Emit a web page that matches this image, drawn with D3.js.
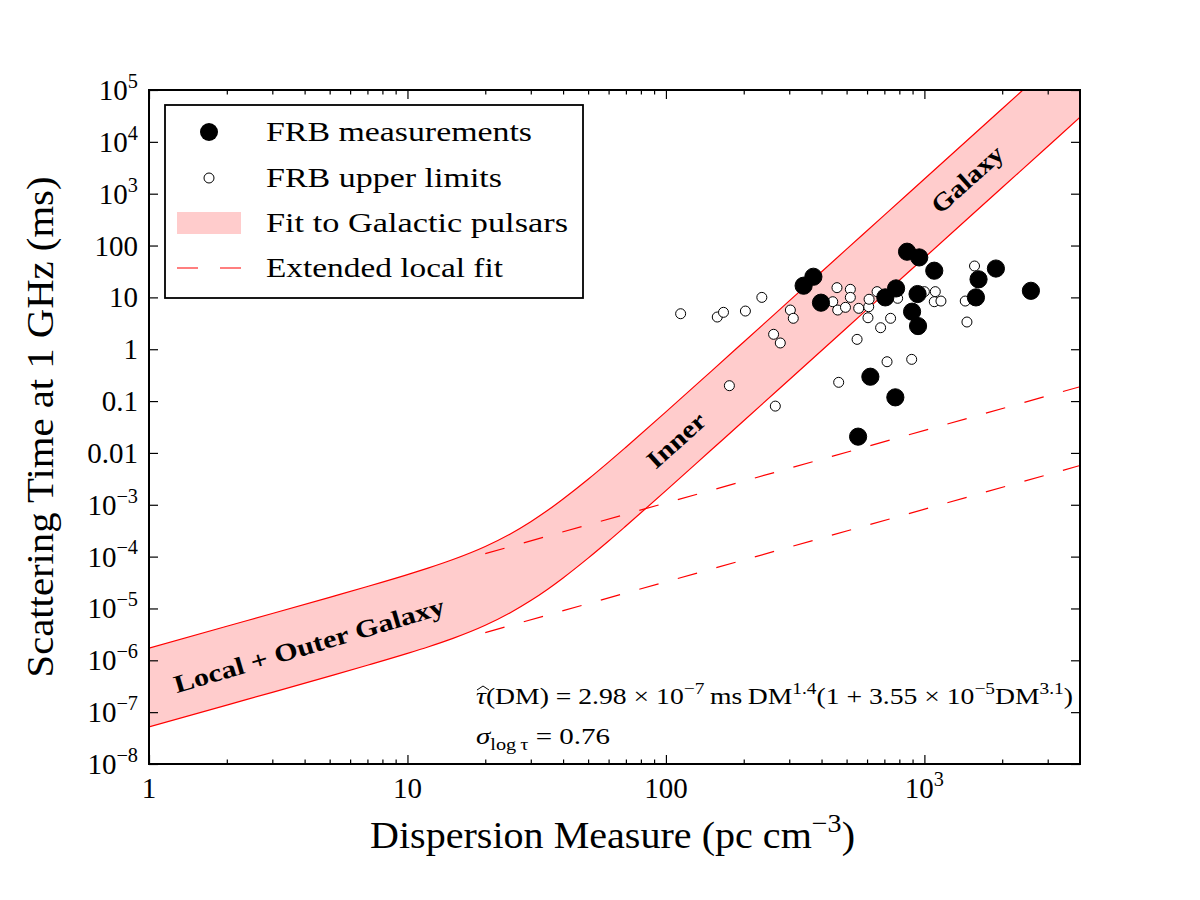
<!DOCTYPE html>
<html>
<head>
<meta charset="utf-8">
<script src="https://cdnjs.cloudflare.com/ajax/libs/d3/7.8.5/d3.min.js"></script>
<style>
  body { margin: 0; background: #ffffff; }
  text { font-family: "Liberation Serif", "DejaVu Serif", serif; fill: #000; }
</style>
</head>
<body>
<script>
// ---- data (DM in pc cm^-3, scattering time in ms) ----
// FRB measurements
var measDM  = [341, 372, 398, 857, 955, 1092, 1891, 1620, 1583, 2583, 777, 706, 941, 896, 945, 618, 772, 554];
var measTau = [16.8, 25, 7.9, 76, 59, 32.7, 36, 22.3, 10.0, 13.4, 14.9, 10.0, 11.6, 5.3, 2.8, 0.295, 0.118, 0.0206];

// FRB upper limits
var limDM  = [114, 158, 167, 203, 235, 303, 311, 261, 277, 176, 265, 459, 442, 462, 495, 517, 517, 557,
              609, 611, 605, 656, 549, 677, 740, 788, 1000, 1102, 1092, 1159, 1439, 1461, 1563, 717, 893, 466];
var limTau = [4.84, 4.18, 5.15, 5.45, 10, 5.7, 3.95, 1.94, 1.32, 0.198, 0.080, 15.4, 8.25, 5.7, 6.43, 14.3, 10, 6.15,
              6.6, 9.2, 4.05, 12.9, 1.55, 2.6, 3.95, 9.6, 12.9, 12.9, 8.25, 8.5, 8.5, 3.35, 40.3, 0.574, 0.638, 0.230];

// fit to Galactic pulsars: band edges
var bandDM   = [1, 2, 3, 5, 7, 10, 12, 15, 20, 25, 30, 35, 40, 50, 60, 70, 100, 150, 200, 300, 500, 700, 1000, 2000, 3000, 4000];
var bandHigh = [1.71e-6, 4.53e-6, 7.98e-6, 1.64e-5, 2.65e-5, 4.50e-5, 6.00e-5, 8.79e-5, 1.57e-4, 2.74e-4, 4.71e-4, 7.89e-4,
                1.29e-3, 3.10e-3, 6.64e-3, 1.29e-2, 6.19e-2, 0.379, 1.38, 8.55, 85.1, 386, 1923, 43550, 2.70e5, 9.86e5];
var bandLow  = [5.18e-8, 1.37e-7, 2.41e-7, 4.95e-7, 8.02e-7, 1.36e-6, 1.81e-6, 2.65e-6, 4.74e-6, 8.28e-6, 1.42e-5, 2.38e-5,
                3.88e-5, 9.35e-5, 2.00e-4, 3.89e-4, 1.87e-3, 1.15e-2, 4.17e-2, 0.258, 2.57, 11.7, 58.1, 1315, 8147, 29790];

// extended local fit (dashed)
var extDM   = [20, 4000];
var extHigh = [1.14e-4, 0.189];
var extLow  = [3.43e-6, 5.72e-3];

// ticks
var xTickVals   = [1, 10, 100, 1000];
var xTickLabels = ["1", "10", "100", "10^3"];
var yTickVals   = [1e5, 1e4, 1e3, 100, 10, 1, 0.1, 0.01, 1e-3, 1e-4, 1e-5, 1e-6, 1e-7, 1e-8];
var yTickLabels = ["10^5", "10^4", "10^3", "100", "10", "1", "0.1", "0.01",
                   "10^\u22123", "10^\u22124", "10^\u22125", "10^\u22126", "10^\u22127", "10^\u22128"];

var legendLabels = ["FRB measurements", "FRB upper limits", "Fit to Galactic pulsars", "Extended local fit"];

// ---- layout ----
var margin = {top: 90, right: 120, bottom: 136, left: 149},
    width = 1200 - margin.left - margin.right,
    height = 900 - margin.top - margin.bottom;

var x = d3.scaleLog().domain([1, 4000]).range([0, width]);
var y = d3.scaleLog().domain([1e-8, 1e5]).range([height, 0]);

var root = d3.select("body").append("svg")
    .attr("width", width + margin.left + margin.right)
    .attr("height", height + margin.top + margin.bottom);

root.append("rect")
    .attr("width", "100%")
    .attr("height", "100%")
    .attr("fill", "#ffffff");

var svg = root.append("g")
    .attr("transform", "translate(" + margin.left + "," + margin.top + ")");

svg.append("clipPath").attr("id", "plotclip")
  .append("rect").attr("width", width).attr("height", height);

var plot = svg.append("g").attr("clip-path", "url(#plotclip)");

// text with super/subscripts: parts = [{t, sup, sub, it}]
function addParts(textSel, parts, size) {
  var shift = 0;
  parts.forEach(function(p) {
    var target = p.sup ? -0.42 * size : (p.sub ? 0.28 * size : 0);
    var ts = textSel.append("tspan")
        .attr("dy", target - shift)
        .attr("font-size", (p.sup || p.sub) ? 0.7 * size : size)
        .text(p.t);
    if (p.it) ts.attr("font-style", "italic");
    shift = target;
  });
}
function powParts(s) {
  var bits = s.split("^");
  var parts = [{t: bits[0]}];
  if (bits.length > 1) parts.push({t: bits[1], sup: true});
  return parts;
}

// ---- Galactic pulsar band ----
var band = bandDM.map(function(d, i) { return {dm: d, lo: bandLow[i], hi: bandHigh[i]}; });

plot.append("path")
    .datum(band)
    .attr("fill", "#ffcccc")
    .attr("d", d3.area()
      .x(function(d) { return x(d.dm); })
      .y0(function(d) { return y(d.lo); })
      .y1(function(d) { return y(d.hi); })
      .curve(d3.curveMonotoneX));

["hi", "lo"].forEach(function(k) {
  plot.append("path")
      .datum(band)
      .attr("fill", "none")
      .attr("stroke", "#ff0000")
      .attr("stroke-width", 1.2)
      .attr("d", d3.line()
        .x(function(d) { return x(d.dm); })
        .y(function(d) { return y(d[k]); })
        .curve(d3.curveMonotoneX));
});

// ---- extended local fit ----
[extHigh, extLow].forEach(function(vals) {
  plot.append("path")
      .datum(extDM.map(function(d, i) { return [d, vals[i]]; }))
      .attr("fill", "none")
      .attr("stroke", "#ff0000")
      .attr("stroke-width", 1.2)
      .attr("stroke-dasharray", "20,20")
      .attr("d", d3.line()
        .x(function(d) { return x(d[0]); })
        .y(function(d) { return y(d[1]); }));
});

// ---- FRB points ----
plot.selectAll(".lim")
    .data(limDM.map(function(d, i) { return [d, limTau[i]]; }))
  .enter().append("circle")
    .attr("class", "lim")
    .attr("cx", function(d) { return x(d[0]); })
    .attr("cy", function(d) { return y(d[1]); })
    .attr("r", 5)
    .attr("fill", "#ffffff")
    .attr("stroke", "#000")
    .attr("stroke-width", 1);

plot.selectAll(".meas")
    .data(measDM.map(function(d, i) { return [d, measTau[i]]; }))
  .enter().append("circle")
    .attr("class", "meas")
    .attr("cx", function(d) { return x(d[0]); })
    .attr("cy", function(d) { return y(d[1]); })
    .attr("r", 8.6)
    .attr("fill", "#000")
    .attr("stroke", "#000")
    .attr("stroke-width", 1);

// ---- band annotations ----
function bandLabel(str, cx, cy, angle, len) {
  svg.append("text")
      .attr("transform", "translate(" + cx + "," + cy + ") rotate(" + angle + ")")
      .attr("text-anchor", "middle")
      .attr("dy", "0.35em")
      .attr("font-size", 25)
      .attr("font-weight", "bold")
      .attr("textLength", len)
      .attr("lengthAdjust", "spacingAndGlyphs")
      .text(str);
}
bandLabel("Local + Outer Galaxy", 309 - margin.left, 645 - margin.top, -16.5, 281);
bandLabel("Inner", 676 - margin.left, 440 - margin.top, -42, 70);
bandLabel("Galaxy", 967 - margin.left, 179 - margin.top, -42, 88);

// ---- fit formula ----
var f1 = svg.append("text")
    .attr("x", 476 - margin.left)
    .attr("y", 704 - margin.top)
    .attr("textLength", 597)
    .attr("lengthAdjust", "spacingAndGlyphs");
addParts(f1, [
  {t: "\u03C4", it: true}, {t: "(DM) = 2.98 \u00D7 10"}, {t: "\u22127", sup: true},
  {t: "\u2009ms\u2009DM"}, {t: "1.4", sup: true}, {t: "(1 + 3.55 \u00D7 10"}, {t: "\u22125", sup: true},
  {t: "DM"}, {t: "3.1", sup: true}, {t: ")"}
], 23);
// wide hat over tau
svg.append("path")
    .attr("d", "M" + (477 - margin.left) + "," + (690 - margin.top) +
               " L" + (483 - margin.left) + "," + (686 - margin.top) +
               " L" + (489 - margin.left) + "," + (690 - margin.top))
    .attr("fill", "none")
    .attr("stroke", "#000")
    .attr("stroke-width", 1);

var f2 = svg.append("text")
    .attr("x", 476 - margin.left)
    .attr("y", 744 - margin.top)
    .attr("textLength", 134)
    .attr("lengthAdjust", "spacingAndGlyphs");
addParts(f2, [
  {t: "\u03C3", it: true}, {t: "log\u2009\u03C4", sub: true}, {t: " = 0.76"}
], 23);

// ---- axes (ticks point inward on all four sides) ----
var xMinor = x.ticks().filter(function(d) {
  return xTickVals.indexOf(d) < 0 && d < 4000;
});

function styleAxis(g) {
  g.select(".domain").remove();
  g.selectAll(".tick line").attr("stroke", "#000").attr("stroke-width", 1.2);
}

svg.append("g").attr("transform", "translate(0," + height + ")")
    .call(d3.axisBottom(x).tickValues(xTickVals).tickSize(-9).tickFormat("")).call(styleAxis);
svg.append("g").attr("transform", "translate(0," + height + ")")
    .call(d3.axisBottom(x).tickValues(xMinor).tickSize(-4.5).tickFormat("")).call(styleAxis);
svg.append("g")
    .call(d3.axisTop(x).tickValues(xTickVals).tickSize(-9).tickFormat("")).call(styleAxis);
svg.append("g")
    .call(d3.axisTop(x).tickValues(xMinor).tickSize(-4.5).tickFormat("")).call(styleAxis);
svg.append("g")
    .call(d3.axisLeft(y).tickValues(yTickVals).tickSize(-9).tickFormat("")).call(styleAxis);
svg.append("g").attr("transform", "translate(" + width + ",0)")
    .call(d3.axisRight(y).tickValues(yTickVals).tickSize(-9).tickFormat("")).call(styleAxis);

// tick labels
xTickVals.forEach(function(v, i) {
  var t = svg.append("text")
      .attr("x", x(v))
      .attr("y", height + 34)
      .attr("text-anchor", "middle")
      .attr("font-size", 29);
  addParts(t, powParts(xTickLabels[i]), 29);
});

yTickVals.forEach(function(v, i) {
  var t = svg.append("text")
      .attr("x", -11)
      .attr("y", y(v) + 10)
      .attr("text-anchor", "end")
      .attr("font-size", 29);
  addParts(t, powParts(yTickLabels[i]), 29);
});

// frame
svg.append("rect")
    .attr("width", width)
    .attr("height", height)
    .attr("fill", "none")
    .attr("stroke", "#000")
    .attr("stroke-width", 2);

// axis labels
var xl = svg.append("text")
    .attr("x", width / 2 - 2)
    .attr("y", 848 - margin.top)
    .attr("text-anchor", "middle")
    .attr("font-size", 37)
    .attr("textLength", 485)
    .attr("lengthAdjust", "spacingAndGlyphs");
addParts(xl, [{t: "Dispersion Measure (pc cm"}, {t: "\u22123", sup: true}, {t: ")"}], 37);

svg.append("text")
    .attr("transform", "translate(" + (53 - margin.left) + "," + (height / 2) + ") rotate(-90)")
    .attr("text-anchor", "middle")
    .attr("font-size", 37)
    .attr("textLength", 501)
    .attr("lengthAdjust", "spacingAndGlyphs")
    .text("Scattering Time at 1 GHz (ms)");

// ---- legend ----
var legend = root.append("g").attr("transform", "translate(165,105)");
var legendWidths = [266, 236, 302, 237];

legend.append("rect")
    .attr("width", 418)
    .attr("height", 193)
    .attr("fill", "#ffffff")
    .attr("stroke", "#000")
    .attr("stroke-width", 1.8);

var rowY = [27, 73, 118, 163];

legend.append("circle").attr("cx", 44).attr("cy", rowY[0]).attr("r", 9).attr("fill", "#000");
legend.append("circle").attr("cx", 44).attr("cy", rowY[1]).attr("r", 5)
    .attr("fill", "#fff").attr("stroke", "#000").attr("stroke-width", 1);
legend.append("rect").attr("x", 12).attr("y", rowY[2] - 11).attr("width", 64).attr("height", 22)
    .attr("fill", "#ffcccc");
legend.append("line").attr("x1", 12).attr("x2", 76).attr("y1", rowY[3]).attr("y2", rowY[3])
    .attr("stroke", "#ff0000").attr("stroke-width", 1.2).attr("stroke-dasharray", "21,22");

legend.selectAll(".ltext")
    .data(legendLabels)
  .enter().append("text")
    .attr("class", "ltext")
    .attr("x", 101)
    .attr("y", function(d, i) { return rowY[i] + 9; })
    .attr("font-size", 28)
    .attr("textLength", function(d, i) { return legendWidths[i]; })
    .attr("lengthAdjust", "spacingAndGlyphs")
    .text(function(d) { return d; });
</script>
</body>
</html>
